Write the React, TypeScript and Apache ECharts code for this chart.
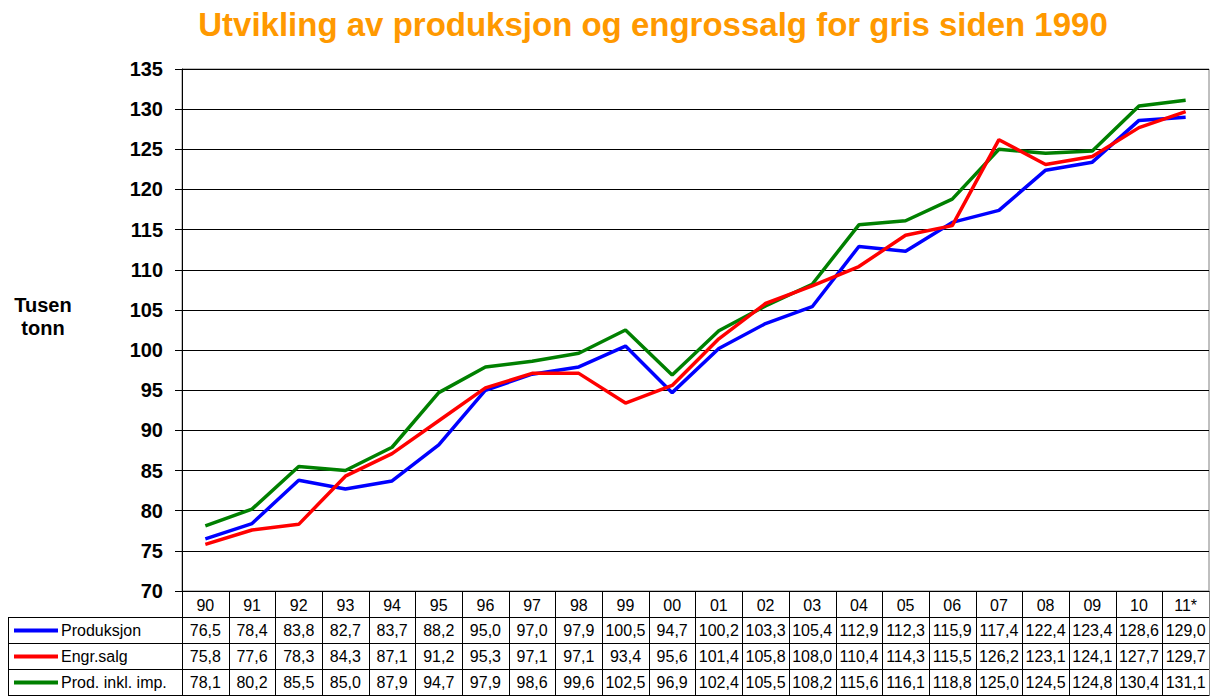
import React, { useEffect, useRef } from "react";
import * as echarts from "echarts";

const categories = ["90","91","92","93","94","95","96","97","98","99","00","01","02","03","04","05","06","07","08","09","10","11*"];
const produksjon = [76.5,78.4,83.8,82.7,83.7,88.2,95.0,97.0,97.9,100.5,94.7,100.2,103.3,105.4,112.9,112.3,115.9,117.4,122.4,123.4,128.6,129.0];
const engrSalg = [75.8,77.6,78.3,84.3,87.1,91.2,95.3,97.1,97.1,93.4,95.6,101.4,105.8,108.0,110.4,114.3,115.5,126.2,123.1,124.1,127.7,129.7];
const prodInklImp = [78.1,80.2,85.5,85.0,87.9,94.7,97.9,98.6,99.6,102.5,96.9,102.4,105.5,108.2,115.6,116.1,118.8,125.0,124.5,124.8,130.4,131.1];
const seriesNames = ["Produksjon", "Engr.salg", "Prod. inkl. imp."];
const seriesColors = ["#0000FF", "#FF0000", "#008000"];
const seriesData = [produksjon, engrSalg, prodInklImp];

const FONT = 'Arial, "Liberation Sans", sans-serif';

export default function App() {
  const ref = useRef<HTMLDivElement>(null);
  useEffect(() => {
    if (!ref.current) return;
    document.body.style.margin = "0";
    const chart = echarts.init(ref.current, null, { renderer: "svg" });
    const gridLeft = 182, gridRight = 7, gridTop = 69, gridBottom = 105;
    chart.setOption({
      animation: false,
      backgroundColor: "#ffffff",
      title: {
        text: "Utvikling av produksjon og engrossalg for gris siden 1990",
        left: 648,
        textAlign: "center",
        top: 3,
        textStyle: { color: "#FF9900", fontSize: 33, fontWeight: "bold", fontFamily: FONT },
      },
      grid: {
        left: gridLeft, right: gridRight, top: gridTop, bottom: gridBottom,
        show: true, borderColor: "#808080", borderWidth: 1, backgroundColor: "transparent",
      },
      xAxis: {
        type: "category",
        data: categories,
        boundaryGap: true,
        axisLine: { show: true, lineStyle: { color: "#000", width: 1 } },
        axisTick: { show: false },
        axisLabel: { color: "#000", fontSize: 16, fontFamily: FONT, margin: 6, interval: 0 },
      },
      yAxis: {
        type: "value",
        min: 70, max: 135, interval: 5,
        axisLine: { show: true, lineStyle: { color: "#000", width: 1 } },
        axisTick: { show: true, length: 7, lineStyle: { color: "#000" } },
        axisLabel: { color: "#000", fontSize: 20, fontWeight: "bold", fontFamily: FONT, margin: 19 },
        splitLine: { show: true, lineStyle: { color: "#000", width: 1 } },
      },
      series: seriesData.map((d, i) => ({
        name: seriesNames[i],
        type: "line",
        data: d,
        symbol: "none",
        lineStyle: { color: seriesColors[i], width: 3.5 },
        itemStyle: { color: seriesColors[i] },
        z: 3 + (i === 1 ? 1 : 0),
      })),
    });

    // Data table beneath the plot, positioned from the category axis
    const plotBottom = chart.convertToPixel({ yAxisIndex: 0 }, 70) as number;
    const x0 = chart.convertToPixel({ xAxisIndex: 0 }, 0) as number;
    const x1 = chart.convertToPixel({ xAxisIndex: 0 }, 1) as number;
    const cw = x1 - x0;
    const leftEdge = x0 - cw / 2;
    const rightEdge = leftEdge + cw * categories.length;
    const headerBottom = plotBottom + 26;
    const rowH = 26;
    const tableLeft = 8;
    const tableBottom = 696;
    const lineStyle = { stroke: "#000", lineWidth: 1 };
    const graphics: any[] = [];
    // vertical separators
    for (let i = 0; i <= categories.length; i++) {
      const x = Math.round(leftEdge + i * cw) + 0.5;
      graphics.push({ type: "line", shape: { x1: x, y1: plotBottom, x2: x, y2: tableBottom }, style: i === categories.length ? { stroke: "#808080", lineWidth: 1 } : lineStyle, silent: true });
    }
    // left table column
    graphics.push({ type: "line", shape: { x1: tableLeft + 0.5, y1: headerBottom, x2: tableLeft + 0.5, y2: tableBottom }, style: lineStyle });
    // horizontal rows
    for (let r = 0; r <= 3; r++) {
      const y = Math.round(headerBottom + r * rowH) + 0.5;
      graphics.push({ type: "line", shape: { x1: tableLeft, y1: y, x2: rightEdge, y2: y }, style: lineStyle });
    }
    seriesData.forEach((d, r) => {
      const cy = headerBottom + r * rowH + rowH / 2 + 0.5;
      graphics.push({ type: "line", shape: { x1: 14, y1: cy, x2: 58, y2: cy }, style: { stroke: seriesColors[r], lineWidth: 4 } });
      graphics.push({
        type: "text", x: 61, y: cy,
        style: { text: seriesNames[r], fill: "#000", font: `16px ${FONT}`, textAlign: "left", textVerticalAlign: "middle" },
      });
      d.forEach((v, i) => {
        const cx = chart.convertToPixel({ xAxisIndex: 0 }, i) as number;
        graphics.push({
          type: "text", x: cx, y: cy,
          style: { text: v.toFixed(1).replace(".", ","), fill: "#000", font: `16px ${FONT}`, textAlign: "center", textVerticalAlign: "middle" },
        });
      });
    });
    // y axis name
    graphics.push({
      type: "text", x: 43, y: 316,
      style: { text: "Tusen\ntonn", fill: "#000", font: `bold 20px ${FONT}`, textAlign: "center", textVerticalAlign: "middle", lineHeight: 23 },
    });
    chart.setOption({ graphic: graphics });
    return () => chart.dispose();
  }, []);
  return <div ref={ref} style={{ position: "fixed", left: 0, top: 0, width: 1216, height: 696 }} />;
}
